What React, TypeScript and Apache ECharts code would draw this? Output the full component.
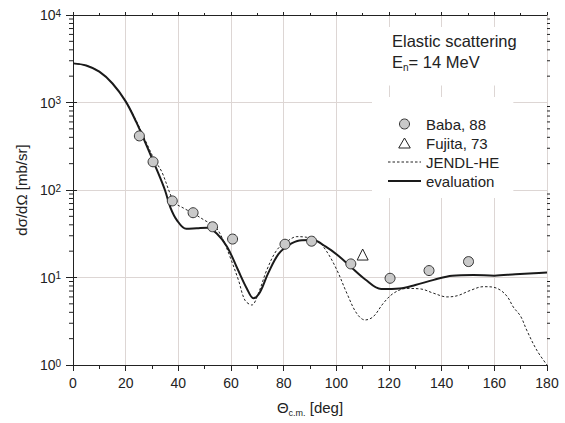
import React, { useEffect, useRef } from "react";
import * as echarts from "echarts";

// ---- data ----
const evalAngles = [0, 5, 10, 15, 20, 24, 28, 31, 33, 35, 37, 39.5, 43, 47, 51, 54.5, 58.5, 62.5, 66, 68.5, 71, 74, 78, 82, 86, 91, 96, 101, 106, 111, 117, 124, 130, 137, 144, 152, 160, 168, 175, 180];
const evalValues = [2800, 2650, 2250, 1650, 1030, 600, 320, 195, 140, 98, 63, 45, 36, 36.5, 37, 32, 22.5, 12.5, 7.5, 5.8, 6.8, 11, 18.5, 23.5, 26.5, 26.8, 22.5, 17.5, 12.8, 9.5, 7.4, 7.5, 8.2, 9.4, 10.5, 10.7, 10.5, 10.9, 11.2, 11.4];

const jendlAngles = [0, 5, 10, 15, 20, 24, 28, 31, 33.7, 36.8, 38.5, 42, 45.7, 50, 54, 57, 59.6, 62.8, 65.3, 67.9, 70.4, 73.6, 77.4, 81.2, 85, 88.8, 92.6, 96.4, 100.2, 104, 107.7, 110.9, 114, 117.9, 121.7, 126.7, 132, 137, 142, 146, 150.8, 155.8, 159, 162.2, 165, 167.2, 170, 172.3, 176.1, 180];
const jendlValues = [2800, 2650, 2250, 1650, 1030, 620, 340, 220, 162, 92, 72, 62, 54, 45, 38, 27, 17.3, 9.4, 5.5, 4.85, 6.6, 12.2, 20.6, 25.7, 29.3, 28.8, 26.8, 19.7, 12.2, 6.6, 3.9, 3.27, 3.56, 5.1, 6.6, 7.5, 7.4, 6.6, 6.0, 6.2, 7.1, 7.85, 7.8, 7.2, 6.0, 4.6, 3.6, 2.5, 1.48, 1.0];

const babaAngles = [25.2, 30.4, 37.7, 45.6, 53.0, 60.6, 80.5, 90.6, 105.5, 120.4, 135.2, 150.2];
const babaValues = [415, 210, 75, 55, 38, 27.5, 24, 26, 14.3, 9.8, 12, 15.2];

const fujitaAngles = [110];
const fujitaValues = [18.3];

const xTickValues = [0, 20, 40, 60, 80, 100, 120, 140, 160, 180];
const yDecades = [1, 10, 100, 1000, 10000];
const legendNames = ["Baba, 88", "Fujita, 73", "JENDL-HE", "evaluation"];

const FONT = "'Liberation Sans', Arial, Helvetica, sans-serif";
const GRID_COLOR = "#ddd6d4";
const TRIANGLE_ICON = "path://M5,0L10,8.66L0,8.66Z";

const pairs = (xs: number[], ys: number[]) => xs.map((x, i) => [x, ys[i]]);

const yMinor: number[] = [];
for (let d = 0; d < yDecades.length - 1; d++) {
  for (let m = 2; m <= 9; m++) yMinor.push(m * yDecades[d]);
}

const hiddenSymbol = { color: "transparent", borderColor: "transparent", borderWidth: 0, opacity: 0 };

export default function App() {
  const ref = useRef<HTMLDivElement>(null);
  useEffect(() => {
    if (!ref.current) return;
    const chart = echarts.init(ref.current, null, { renderer: "svg" });
    const xMin = xTickValues[0];
    const xMax = xTickValues[xTickValues.length - 1];
    const option: any = {
      animation: false,
      backgroundColor: "#fff",
      textStyle: { fontFamily: FONT },
      grid: { left: 73, top: 15, width: 474, height: 350, containLabel: false },
      title: {
        left: 381,
        top: 27,
        padding: [3, 12, 13, 11],
        backgroundColor: "#fff",
        text: "Elastic scattering\nE{sub|n}= 14 MeV",
        textStyle: {
          fontFamily: FONT,
          fontSize: 16.5,
          fontWeight: "normal",
          color: "#222",
          lineHeight: 21,
          rich: {
            sub: { fontFamily: FONT, fontSize: 10, padding: [12, 0, 0, 0], color: "#222" },
          },
        },
      },
      legend: {
        orient: "vertical",
        left: 372,
        top: 97,
        padding: [19, 14, 9, 15],
        backgroundColor: "#fff",
        itemWidth: 33,
        itemHeight: 10,
        itemGap: 3,
        symbolKeepAspect: true,
        textStyle: { fontFamily: FONT, fontSize: 15, color: "#222", lineHeight: 16 },
        data: [
          { name: legendNames[0], icon: "circle", itemStyle: { color: "#c9c9c9", borderColor: "#333", borderWidth: 1 } },
          { name: legendNames[1], icon: TRIANGLE_ICON, itemStyle: { color: "#fff", borderColor: "#222", borderWidth: 1 } },
          { name: legendNames[2], itemStyle: hiddenSymbol, lineStyle: { color: "#222", width: 1, type: [2.5, 2] } },
          { name: legendNames[3], itemStyle: hiddenSymbol, lineStyle: { color: "#1a1a1a", width: 2 } },
        ],
      },
      xAxis: [
        {
          type: "value",
          min: xMin,
          max: xMax,
          interval: 20,
          position: "bottom",
          axisLine: { lineStyle: { color: "#222", width: 1 } },
          axisTick: { length: 6, lineStyle: { color: "#222" } },
          minorTick: { show: true, splitNumber: 2, length: 4, lineStyle: { color: "#222" } },
          splitLine: { show: true, lineStyle: { color: GRID_COLOR, width: 1 } },
          axisLabel: { fontFamily: FONT, fontSize: 14, color: "#222", margin: 11 },
          name: "Θ{sub|c.m.} [deg]",
          nameLocation: "middle",
          nameGap: 33,
          nameTextStyle: {
            fontFamily: FONT,
            fontSize: 15,
            color: "#222",
            rich: { sub: { fontFamily: FONT, fontSize: 9, padding: [10, 0, 0, 0], color: "#222" } },
          },
        },
        {
          type: "value",
          min: xMin,
          max: xMax,
          interval: 20,
          position: "top",
          axisLine: { lineStyle: { color: "#222", width: 1 } },
          axisTick: { length: 3, lineStyle: { color: "#222" } },
          minorTick: { show: true, splitNumber: 2, length: 2, lineStyle: { color: "#222" } },
          splitLine: { show: false },
          axisLabel: { show: false },
        },
      ],
      yAxis: [
        {
          type: "log",
          logBase: 10,
          min: yDecades[0],
          max: yDecades[yDecades.length - 1],
          position: "left",
          axisLine: { show: true, lineStyle: { color: "#222", width: 1 } },
          axisTick: { show: true, length: 7, lineStyle: { color: "#222" } },
          splitLine: { show: true, lineStyle: { color: GRID_COLOR, width: 1 } },
          axisLabel: {
            margin: 12,
            fontFamily: FONT,
            color: "#222",
            formatter: (v: number) => `{base|10}{sup|${Math.round(Math.log10(v))}}`,
            rich: {
              base: { fontFamily: FONT, fontSize: 14, lineHeight: 14, verticalAlign: "bottom", color: "#222" },
              sup: { fontFamily: FONT, fontSize: 10, lineHeight: 10, verticalAlign: "top", padding: [0, 0, 8, 0], color: "#222" },
            },
          },
          name: "dσ/dΩ [mb/sr]",
          nameLocation: "middle",
          nameRotate: 90,
          nameGap: 38,
          nameTextStyle: { fontFamily: FONT, fontSize: 15, color: "#222" },
        },
        {
          type: "log",
          logBase: 10,
          min: yDecades[0],
          max: yDecades[yDecades.length - 1],
          position: "right",
          axisLine: { show: true, lineStyle: { color: "#222", width: 1 } },
          axisTick: { show: true, length: 4, lineStyle: { color: "#222" } },
          splitLine: { show: false },
          axisLabel: { show: false },
        },
      ],
      series: [
        {
          type: "custom",
          name: "minorTicks",
          xAxisIndex: 0,
          yAxisIndex: 0,
          clip: false,
          silent: true,
          data: yMinor.map((v) => [xMin, v]),
          renderItem: (_params: any, api: any) => {
            const v = api.value(1);
            const l = api.coord([xMin, v]);
            const r = api.coord([xMax, v]);
            const st = { stroke: "#222", lineWidth: 1 };
            return {
              type: "group",
              children: [
                { type: "line", shape: { x1: l[0] - 4, y1: l[1], x2: l[0], y2: l[1] }, style: st },
                { type: "line", shape: { x1: r[0], y1: r[1], x2: r[0] + 3, y2: r[1] }, style: st },
              ],
            };
          },
        },
        {
          type: "line",
          name: legendNames[2],
          xAxisIndex: 0,
          yAxisIndex: 0,
          data: pairs(jendlAngles, jendlValues),
          symbol: "none",
          smooth: 0.35,
          lineStyle: { color: "#222", width: 1, type: [2.5, 2] },
          itemStyle: { color: "#222" },
          z: 3,
        },
        {
          type: "line",
          name: legendNames[3],
          xAxisIndex: 0,
          yAxisIndex: 0,
          data: pairs(evalAngles, evalValues),
          symbol: "none",
          smooth: 0.35,
          lineStyle: { color: "#1a1a1a", width: 2 },
          itemStyle: { color: "#1a1a1a" },
          z: 4,
        },
        {
          type: "scatter",
          name: legendNames[0],
          xAxisIndex: 0,
          yAxisIndex: 0,
          data: pairs(babaAngles, babaValues),
          symbol: "circle",
          symbolSize: 10,
          itemStyle: { color: "#c9c9c9", borderColor: "#333", borderWidth: 1, opacity: 1 },
          z: 5,
        },
        {
          type: "scatter",
          name: legendNames[1],
          xAxisIndex: 0,
          yAxisIndex: 0,
          data: pairs(fujitaAngles, fujitaValues),
          symbol: "triangle",
          symbolSize: 11,
          itemStyle: { color: "#fff", borderColor: "#222", borderWidth: 1, opacity: 1 },
          z: 5,
        },
      ],
    };
    chart.setOption(option);
    return () => chart.dispose();
  }, []);
  return (
    <div
      ref={ref}
      style={{ position: "fixed", left: 0, top: 0, width: 565, height: 423, background: "#fff" }}
    />
  );
}
